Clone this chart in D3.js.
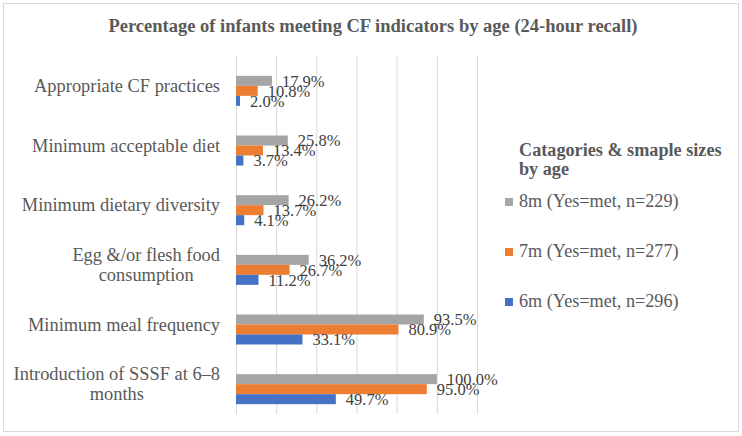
<!DOCTYPE html>
<html>
<head>
<meta charset="utf-8">
<script src="https://cdn.jsdelivr.net/npm/d3@7"></script>
<style>
  body { margin: 0; background: #fff; }
  svg { display: block; font-family: "Liberation Serif", "Times New Roman", serif; }
</style>
</head>
<body>
<svg id="chart" width="742" height="436"></svg>
<script>
/*** DATA ***/
const categories = [
  'Appropriate CF practices',
  'Minimum acceptable diet',
  'Minimum dietary diversity',
  'Egg &/or flesh food consumption',
  'Minimum meal frequency',
  'Introduction of SSSF at 6\u20138 months'
];
const seriesKeys = ['8m', '7m', '6m'];
const seriesNames = ['8m (Yes=met, n=229)', '7m (Yes=met, n=277)', '6m (Yes=met, n=296)'];
const values8m = [17.9, 25.8, 26.2, 36.2, 93.5, 100.0];
const values7m = [10.8, 13.4, 13.7, 26.7, 80.9, 95.0];
const values6m = [2.0, 3.7, 4.1, 11.2, 33.1, 49.7];
const xTicks = [0, 20, 40, 60, 80, 100, 120];

const colors = {'8m': '#A5A5A5', '7m': '#ED7D31', '6m': '#4472C4'};
const seriesValues = {'8m': values8m, '7m': values7m, '6m': values6m};

/*** LAYOUT ***/
const plot = {left: 236, right: 477, top: 56, bottom: 414};
const barH = 10;

const svg = d3.select('#chart');

// chart border
svg.append('rect')
  .attr('x', 3.5).attr('y', 3.5)
  .attr('width', 735).attr('height', 428)
  .attr('fill', '#fff').attr('stroke', '#D9D9D9');

// title
svg.append('text')
  .attr('x', 373).attr('y', 32)
  .attr('text-anchor', 'middle')
  .attr('font-weight', 'bold').attr('font-size', 18.5)
  .attr('fill', '#595959')
  .text('Percentage of infants meeting CF indicators by age (24-hour recall)');

/*** SCALES ***/
const x = d3.scaleLinear().domain([0, 120]).range([plot.left, plot.right]);
const y = d3.scaleBand().domain(categories).range([plot.top, plot.bottom]);
// one empty slot above the three series, like the source chart
const y1 = d3.scaleBand().domain(seriesKeys)
  .range([y.bandwidth() / 2 - barH, y.bandwidth() / 2 + 2 * barH]);

// gridlines
svg.append('g')
  .selectAll('line')
  .data(xTicks)
  .enter().append('line')
    .attr('x1', d => x(d) + 0.5).attr('x2', d => x(d) + 0.5)
    .attr('y1', plot.top).attr('y2', plot.bottom)
    .attr('stroke', '#D9D9D9').attr('stroke-width', 1);

/*** BARS ***/
const rows = categories.map((c, i) => ({
  cat: c,
  bars: seriesKeys.map(k => ({key: k, value: seriesValues[k][i]}))
}));

const groups = svg.append('g')
  .selectAll('g')
  .data(rows)
  .enter().append('g')
    .attr('transform', d => `translate(0,${y(d.cat)})`);

groups.selectAll('rect')
  .data(d => d.bars)
  .enter().append('rect')
    .attr('x', x(0))
    .attr('y', d => y1(d.key))
    .attr('width', d => x(d.value) - x(0))
    .attr('height', y1.bandwidth())
    .attr('fill', d => colors[d.key]);

groups.selectAll('text')
  .data(d => d.bars)
  .enter().append('text')
    .attr('x', d => x(d.value) + 10)
    .attr('y', d => y1(d.key) + y1.bandwidth() / 2)
    .attr('dy', '0.36em')
    .attr('font-size', 16.5)
    .attr('fill', '#404040')
    .text(d => d.value.toFixed(1) + '%');

/*** CATEGORY LABELS (wrapped, centred in their box, box right-aligned) ***/
const labelRight = 220, maxLabelW = 212, lineH = 20;
categories.forEach(c => {
  const t = svg.append('text')
    .attr('font-size', 18.4).attr('fill', '#595959')
    .attr('text-anchor', 'middle');
  const words = c.split(' ');
  const lines = [];
  let cur = [];
  const probe = t.append('tspan');
  words.forEach(w => {
    probe.text([...cur, w].join(' '));
    if (cur.length && probe.node().getComputedTextLength() > maxLabelW) {
      lines.push(cur.join(' '));
      cur = [w];
    } else cur.push(w);
  });
  lines.push(cur.join(' '));
  probe.remove();

  const spans = lines.map(l => t.append('tspan').text(l));
  const w = d3.max(spans, s => s.node().getComputedTextLength());
  const cy = y(c) + y.bandwidth() / 2;
  spans.forEach((s, i) => {
    s.attr('x', labelRight - w / 2)
     .attr('y', cy + 6.3 + (i - (lines.length - 1) / 2) * lineH);
  });
});

/*** LEGEND ***/
const legend = svg.append('g');
['Catagories & smaple sizes', 'by age'].forEach((l, i) => {
  legend.append('text')
    .attr('x', 519).attr('y', 156 + i * 19)
    .attr('font-size', 18.2).attr('font-weight', 'bold')
    .attr('fill', '#595959')
    .text(l);
});

const items = legend.selectAll('g.item')
  .data(seriesKeys)
  .enter().append('g')
    .attr('class', 'item')
    .attr('transform', (d, i) => `translate(0,${207 + i * 50})`);

items.append('rect')
  .attr('x', 505).attr('y', -9)
  .attr('width', 8).attr('height', 8)
  .attr('fill', d => colors[d]);

items.append('text')
  .attr('x', 519).attr('y', 0)
  .attr('font-size', 18.2).attr('fill', '#595959')
  .text((d, i) => seriesNames[i]);
</script>
</body>
</html>
